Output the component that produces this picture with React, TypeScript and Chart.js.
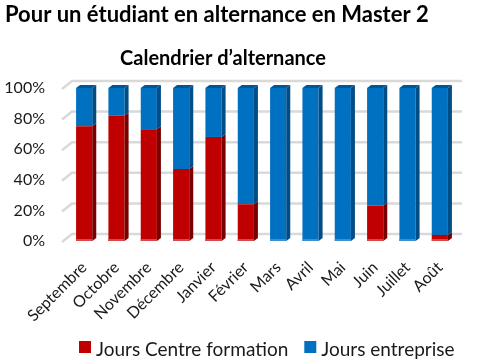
import React, { useEffect, useRef } from "react";
import { Chart, registerables } from "chart.js";

Chart.register(...registerables);

const months = ["Septembre", "Octobre", "Novembre", "Décembre", "Janvier", "Février", "Mars", "Avril", "Mai", "Juin", "Juillet", "Août"];
const centreFormation = [75, 82, 73, 47, 68, 24, 0, 0, 0, 23, 0, 4];
const entreprise = [25, 18, 27, 53, 32, 76, 100, 100, 100, 77, 100, 96];
const yTicks = [0, 20, 40, 60, 80, 100];

const mainTitle = "Pour un étudiant en alternance en Master 2";
const chartTitle = "Calendrier d’alternance";
const FONT = "Lato, 'Open Sans', sans-serif";

const RED = "#C00000";
const BLUE = "#0070C0";
const RED_SIDE = "#7A0000";
const BLUE_SIDE = "#004C86";
const BLUE_TOP = "#005796";
const RED_TOP = "#8E0000";
const TEXT = "#1a1a1a";

const wallGrid = {
  id: "wallGrid",
  beforeDatasetsDraw(chart: any) {
    const ctx = chart.ctx;
    const y = chart.scales.y;
    const area = chart.chartArea;
    ctx.save();
    ctx.strokeStyle = "#D9D9D9";
    ctx.lineWidth = 2.5;
    for (const v of yTicks) {
      const py = y.getPixelForValue(v);
      ctx.beginPath();
      ctx.moveTo(area.left - 6, py + 1);
      ctx.lineTo(area.left + 4, py - 7);
      ctx.lineTo(area.right + 6, py - 7);
      ctx.stroke();
    }
    ctx.restore();
  },
};

const bars3d = {
  id: "bars3d",
  afterDatasetsDraw(chart: any) {
    const ctx = chart.ctx;
    const dx = 4;
    const dy = 3;
    ctx.save();
    chart.data.datasets.forEach((ds: any, di: number) => {
      const meta = chart.getDatasetMeta(di);
      meta.data.forEach((el: any, i: number) => {
        const v = ds.data[i];
        if (!v) return;
        const { x, y, base, width } = el.getProps(["x", "y", "base", "width"], true);
        const l = x - width / 2;
        const r = x + width / 2;
        ctx.fillStyle = di === 0 ? RED_SIDE : BLUE_SIDE;
        ctx.beginPath();
        ctx.moveTo(r, y);
        ctx.lineTo(r + dx, y - dy);
        ctx.lineTo(r + dx, base - dy);
        ctx.lineTo(r, base);
        ctx.closePath();
        ctx.fill();
        const isTop = di === 1 || (di === 0 && chart.data.datasets[1].data[i] === 0);
        if (isTop) {
          ctx.fillStyle = di === 0 ? RED_TOP : BLUE_TOP;
          ctx.beginPath();
          ctx.moveTo(l, y);
          ctx.lineTo(l + dx, y - dy);
          ctx.lineTo(r + dx, y - dy);
          ctx.lineTo(r, y);
          ctx.closePath();
          ctx.fill();
        }
        if (di === 0 || (di === 1 && chart.data.datasets[0].data[i] === 0)) {
          ctx.fillStyle = di === 0 ? "#D84848" : "#3C8FD0";
          ctx.fillRect(l, base - 2, width, 2);
        }
      });
    });
    ctx.restore();
  },
};

const titles = {
  id: "titles",
  afterDraw(chart: any) {
    const ctx = chart.ctx;
    ctx.save();
    ctx.fillStyle = "#000000";
    ctx.textBaseline = "alphabetic";
    ctx.textAlign = "left";
    ctx.font = `bold 22px ${FONT}`;
    ctx.fillText(mainTitle, 5, 22);
    ctx.textAlign = "center";
    ctx.font = `bold 20px ${FONT}`;
    ctx.fillText(chartTitle, 223, 65);
    ctx.restore();
  },
};

const customLegend = {
  id: "customLegend",
  afterDraw(chart: any) {
    const ctx = chart.ctx;
    ctx.save();
    ctx.font = `19px ${FONT}`;
    ctx.textBaseline = "alphabetic";
    ctx.textAlign = "left";
    let x = 79;
    const boxTop = 341;
    const box = 12;
    chart.data.datasets.forEach((ds: any) => {
      ctx.fillStyle = ds.backgroundColor;
      ctx.fillRect(x, boxTop, box, box);
      x += box + 5;
      ctx.fillStyle = TEXT;
      ctx.fillText(ds.label, x, 356);
      x += ctx.measureText(ds.label).width + 16;
    });
    ctx.restore();
  },
};

export default function App() {
  const ref = useRef<HTMLCanvasElement | null>(null);
  useEffect(() => {
    document.body.style.margin = "0";
    if (!ref.current) return;
    const chart = new Chart(ref.current, {
      type: "bar",
      data: {
        labels: months,
        datasets: [
          { label: "Jours Centre formation", data: centreFormation, backgroundColor: RED, borderWidth: 0 },
          { label: "Jours entreprise", data: entreprise, backgroundColor: BLUE, borderWidth: 0 },
        ],
      },
      options: {
        responsive: false,
        animation: false,
        layout: { padding: { top: 88, left: 0, right: 38, bottom: 22 } },
        datasets: { bar: { barPercentage: 0.5, categoryPercentage: 1 } },
        scales: {
          x: {
            stacked: true,
            grid: { display: false, drawTicks: false },
            border: { display: false },
            ticks: {
              autoSkip: false,
              minRotation: 45,
              maxRotation: 45,
              padding: 17,
              color: TEXT,
              font: { family: FONT, size: 16 },
            },
            afterFit: (s: any) => { s.height = 100; },
          },
          y: {
            stacked: true,
            min: 0,
            max: 100,
            grid: { display: false, drawTicks: false },
            border: { display: false },
            ticks: {
              stepSize: 20,
              padding: 23,
              color: TEXT,
              font: { family: FONT, size: 16 },
              callback: (v: any) => v + "%",
            },
            afterFit: (s: any) => { s.width = 68; },
          },
        },
        plugins: {
          legend: { display: false },
          tooltip: { enabled: false },
        },
      },
      plugins: [wallGrid, bars3d, titles, customLegend],
    });
    return () => chart.destroy();
  }, []);
  return (
    <div style={{ position: "absolute", left: 0, top: 0, width: 494, height: 363 }}>
      <canvas ref={ref} width={494} height={363} style={{ width: 494, height: 363, display: "block" }} />
    </div>
  );
}
